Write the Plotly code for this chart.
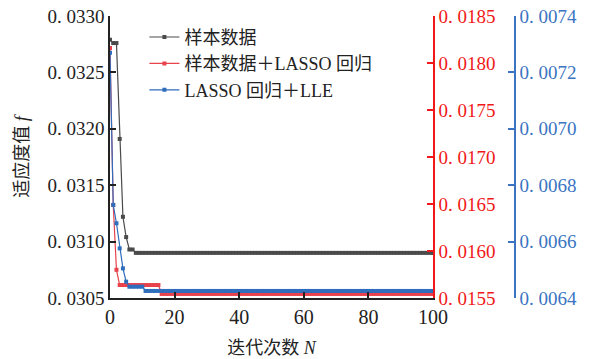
import plotly.graph_objects as go

# ---- data ----
iterations = list(range(0, 101))

sample_head = [0.03279, 0.03276, 0.03276, 0.03191, 0.03122, 0.03104, 0.03093, 0.03093]
sample_tail_value = 0.03090
sample_data = sample_head + [sample_tail_value] * (101 - len(sample_head))

lasso_head = [0.01816, 0.01649, 0.01580]
lasso_mid_value = 0.015638
lasso_mid_count = 13          # iterations 3..15
lasso_tail_value = 0.015543
lasso_data = lasso_head + [lasso_mid_value] * lasso_mid_count
lasso_data = lasso_data + [lasso_tail_value] * (101 - len(lasso_data))

lle_head = [0.00727, 0.00673, 0.006665, 0.006576, 0.006505, 0.006458]
lle_mid_value = 0.006440
lle_mid_count = 5             # iterations 6..10
lle_tail_value = 0.006425
lle_data = lle_head + [lle_mid_value] * lle_mid_count
lle_data = lle_data + [lle_tail_value] * (101 - len(lle_data))

names = ["样本数据", "样本数据＋LASSO 回归", "LASSO 回归＋LLE"]

left_ticks = [0.0305, 0.0310, 0.0315, 0.0320, 0.0325, 0.0330]
left_text = ["0. 0305", "0. 0310", "0. 0315", "0. 0320", "0. 0325", "0. 0330"]
red_ticks = [0.0155, 0.0160, 0.0165, 0.0170, 0.0175, 0.0180, 0.0185]
red_text = ["0. 0155", "0. 0160", "0. 0165", "0. 0170", "0. 0175", "0. 0180", "0. 0185"]
blue_ticks = [0.0064, 0.0066, 0.0068, 0.0070, 0.0072, 0.0074]
blue_text = ["0. 0064", "0. 0066", "0. 0068", "0. 0070", "0. 0072", "0. 0074"]
x_ticks = [0, 20, 40, 60, 80, 100]

# ---- styles ----
FONT = "Liberation Serif, Noto Sans CJK SC, serif"
C_BLACK = "#4a4a4a"
C_RED = "#e8434d"
C_BLUE = "#2f6dbd"
AX_RED = "#f01818"
AX_BLUE = "#3a74c2"

W, H = 592, 359
ML, MR, MT, MB = 110, 77, 16, 61
plot_w = W - ML - MR
xdom_end = 323 / plot_w

fig = go.Figure()
fig.add_trace(go.Scatter(x=iterations, y=sample_data, name=names[0], mode="lines+markers",
                         line=dict(color=C_BLACK, width=1.2),
                         marker=dict(symbol="square", size=4, color=C_BLACK, line=dict(width=0)),
                         yaxis="y"))
fig.add_trace(go.Scatter(x=iterations, y=lasso_data, name=names[1], mode="lines+markers",
                         line=dict(color=C_RED, width=1.2),
                         marker=dict(symbol="square", size=4, color=C_RED, line=dict(width=0)),
                         yaxis="y2"))
fig.add_trace(go.Scatter(x=iterations, y=lle_data, name=names[2], mode="lines+markers",
                         line=dict(color=C_BLUE, width=1.2),
                         marker=dict(symbol="square", size=4, color=C_BLUE, line=dict(width=0)),
                         yaxis="y3"))

common_y = dict(ticks="inside", ticklen=6, tickwidth=1.5, showline=True, linewidth=1.5,
                showgrid=False, zeroline=False, automargin=False, ticklabeloverflow="allow")

fig.update_layout(
    width=W, height=H,
    margin=dict(l=ML, r=MR, t=MT, b=MB, pad=0, autoexpand=False),
    paper_bgcolor="white", plot_bgcolor="white",
    font=dict(family=FONT, size=18, color="#222"),
    showlegend=True,
    legend=dict(x=0.085, y=0.99, xanchor="left", yanchor="top",
                bgcolor="rgba(0,0,0,0)", font=dict(size=18, family=FONT),
                itemwidth=30, tracegroupgap=0),
    xaxis=dict(domain=[0, xdom_end], range=[0, 100], tickvals=x_ticks, automargin=False,
               ticks="inside", ticklen=6, tickwidth=1.5, tickcolor="#222",
               showline=True, linecolor="#222", linewidth=1.5, showgrid=False, zeroline=False,
               ticklabeloverflow="allow", tickfont=dict(size=20),
               title=dict(text="迭代次数 <i>N</i>", font=dict(size=18), standoff=15)),
    yaxis=dict(range=[0.0305, 0.0330], tickvals=left_ticks, ticktext=left_text,
               tickcolor="#222", linecolor="#222", tickfont=dict(size=19),
               title=dict(text="适应度值 <i>f</i>", font=dict(size=18), standoff=14), **common_y),
    yaxis2=dict(range=[0.0155, 0.0185], tickvals=red_ticks, ticktext=red_text,
                overlaying="y", side="right", anchor="x",
                tickcolor=AX_RED, linecolor=AX_RED, tickfont=dict(size=19, color=AX_RED), **common_y),
    yaxis3=dict(range=[0.0064, 0.0074], tickvals=blue_ticks, ticktext=blue_text,
                overlaying="y", side="right", anchor="free", position=1.0,
                tickcolor=AX_BLUE, linecolor=AX_BLUE, tickfont=dict(size=19, color=AX_BLUE), **common_y),
)

fig.write_html("out.html", config={"displayModeBar": False},
               post_script="document.body.style.margin='0';document.body.style.overflow='hidden';")
